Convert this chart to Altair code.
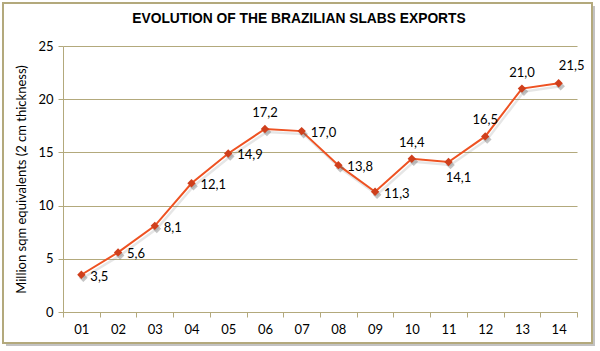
import altair as alt
import pandas as pd

years = ["01", "02", "03", "04", "05", "06", "07", "08", "09", "10", "11", "12", "13", "14"]
values = [3.5, 5.6, 8.1, 12.1, 14.9, 17.2, 17.0, 13.8, 11.3, 14.4, 14.1, 16.5, 21.0, 21.5]
placement = ["right", "right", "right", "right", "right", "above", "right",
             "right", "right", "above", "below", "above", "above", "aboveright"]
title_text = ["EVOLUTION OF THE BRAZILIAN SLABS EXPORTS"]

df = pd.DataFrame({"year": years, "value": values, "place": placement})
df["label"] = df["value"].map(lambda v: f"{v:.1f}".replace(".", ","))

FONT = "Lato"
KHAKI = "#b3a97c"

x = alt.X("year:O", sort=years,
          scale=alt.Scale(type="band", paddingInner=0, paddingOuter=0),
          axis=alt.Axis(title=None, labelAngle=0, tickBand="extent", grid=False,
                        domainColor=KHAKI, tickColor=KHAKI, tickSize=5,
                        labelPadding=6, labelFont=FONT, labelFontSize=13,
                        labelColor="#000000"))
y = alt.Y("value:Q", scale=alt.Scale(domain=[0, 25], nice=False),
          axis=alt.Axis(values=[0, 5, 10, 15, 20, 25],
                        title="Million sqm equivalents (2 cm thickness)",
                        titleFont=FONT, titleFontSize=13, titleFontWeight="normal",
                        titleColor="#000000", titlePadding=9,
                        grid=True, gridColor=KHAKI, gridWidth=1.2,
                        domainColor=KHAKI, tickColor=KHAKI, tickSize=5,
                        labelPadding=5, labelFont=FONT, labelFontSize=13,
                        labelColor="#000000"))

one = alt.Data(values=[{}])
shadow_r = alt.Chart(one).mark_rect(color="#9a9a9a", opacity=0.6).encode(
    x=alt.value(529), x2=alt.value(532), y=alt.value(-40), y2=alt.value(300))
shadow_b = alt.Chart(one).mark_rect(color="#9a9a9a", opacity=0.6).encode(
    x=alt.value(-57), x2=alt.value(529), y=alt.value(297), y2=alt.value(300))
frame = alt.Chart(one).mark_rect(fill=None, stroke=KHAKI, strokeWidth=2).encode(
    x=alt.value(-60), x2=alt.value(529), y=alt.value(-43), y2=alt.value(297))
title = alt.Chart(alt.Data(values=[{"t": t} for t in title_text])).mark_text(
    font="Liberation Sans", fontSize=13.8, fontWeight="bold", color="#000000",
    align="center", baseline="alphabetic"
).encode(x=alt.value(236), y=alt.value(-23), text="t:N")

base = alt.Chart(df)
line_shadow = base.mark_line(color="#777777", strokeWidth=2.5, opacity=0.18,
                             xOffset=2, yOffset=3).encode(x=x, y=y)
line = base.mark_line(color="#ee5222", strokeWidth=2).encode(x=x, y=y)
pt_shadow = base.mark_point(shape="diamond", filled=True, size=75, color="#555555",
                            opacity=0.35, xOffset=2, yOffset=3).encode(x=x, y=y)
pts = base.mark_point(shape="diamond", filled=True, size=70, color="#cf3f1c",
                      opacity=1).encode(x=x, y=y)

def labels(place, **kw):
    return base.transform_filter(alt.datum.place == place).mark_text(
        font=FONT, fontSize=13, color="#000000", baseline="middle", **kw
    ).encode(x=x, y=y, text="label:N")

txt_right = labels("right", align="left", dx=9, dy=2)
txt_above = labels("above", align="center", dy=-16)
txt_below = labels("below", align="center", dx=10, dy=16)
txt_ar = labels("aboveright", align="center", dx=13, dy=-17)

chart = alt.layer(
    shadow_r, shadow_b, frame, title, line_shadow, line, pt_shadow, pts,
    txt_right, txt_above, txt_below, txt_ar
).properties(
    width=514, height=266,
    padding={"left": 63, "top": 46, "right": 23, "bottom": 39},
    autosize="none",
    background="#ffffff",
).configure_view(stroke=None)

chart.save("out.html", embed_options={"renderer": "svg", "actions": False})
